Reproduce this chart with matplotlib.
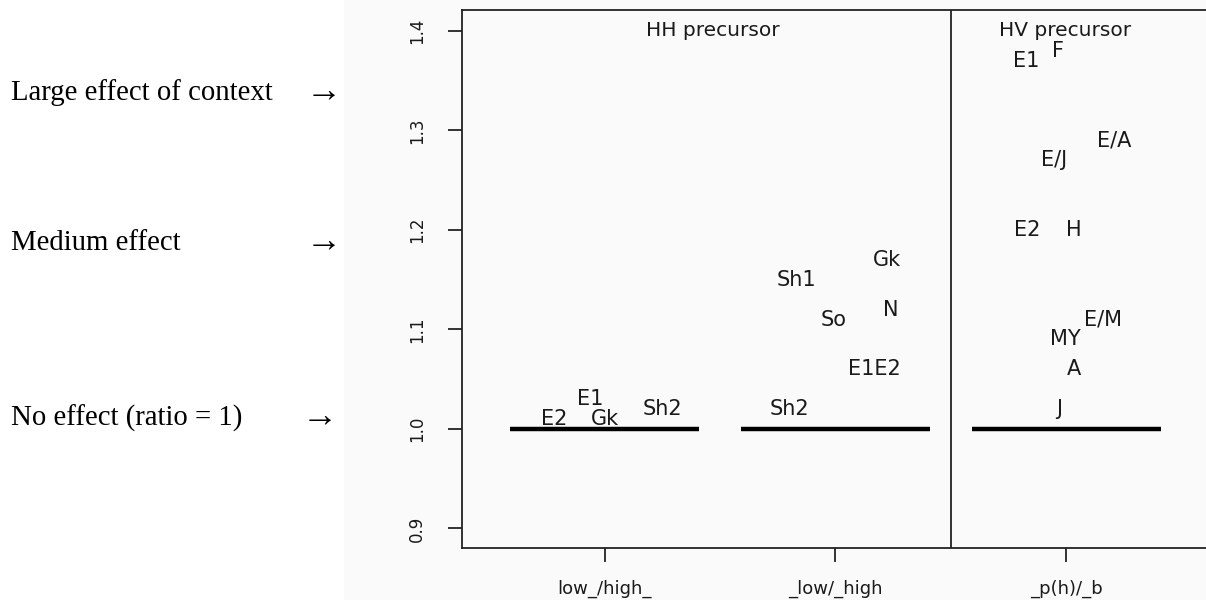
import matplotlib.pyplot as plt
from matplotlib.patches import Rectangle

# contexts on the x axis
contexts = ['low_/high_', '_low/_high', '_p(h)/_b']
baseline = 1.0

# ratio labels per context (label, x in data units, ratio)
g1_labels = ['E2', 'E1', 'Gk', 'Sh2']
g1_x = [0.78, 0.935, 1.0, 1.25]
g1_y = [1.01, 1.03, 1.01, 1.02]

g2_labels = ['Sh2', 'Sh1', 'So', 'N', 'Gk', 'E1E2']
g2_x = [1.80, 1.83, 1.99, 2.24, 2.225, 2.17]
g2_y = [1.02, 1.15, 1.11, 1.12, 1.17, 1.06]

g3_labels = ['E1', 'F', 'E/A', 'E/J', 'E2', 'H', 'E/M', 'MY', 'A', 'J']
g3_x = [2.825, 2.965, 3.21, 2.948, 2.83, 3.035, 3.16, 2.995, 3.035, 2.97]
g3_y = [1.37, 1.38, 1.29, 1.27, 1.20, 1.20, 1.11, 1.09, 1.06, 1.02]

yticks = [0.9, 1.0, 1.1, 1.2, 1.3, 1.4]

# annotations on the left
notes = ['Large effect of context', 'Medium effect', 'No effect (ratio = 1)']

TXT = '#1a1a1a'
BG = '#fafafa'
SERIF = ['Liberation Serif', 'DejaVu Serif']

fig = plt.figure(figsize=(12.06, 6.0), dpi=100)
fig.patches.append(Rectangle((344 / 1206, 0), 1, 1, transform=fig.transFigure,
                             facecolor=BG, edgecolor='none', zorder=-10))

ax = fig.add_axes([462 / 1206, 52 / 600, 1 - 462 / 1206, 538 / 600])
ax.set_facecolor(BG)
ax.set_xlim(0.38, 3.607)
ax.set_ylim(0.8804, 1.4211)

for s in ['left', 'top', 'bottom']:
    ax.spines[s].set_linewidth(1.3)
    ax.spines[s].set_color('#222222')
ax.spines['right'].set_visible(False)

ax.set_xticks(range(1, len(contexts) + 1))
ax.set_xticklabels(contexts, fontsize=13)
ax.set_yticks(yticks)
ax.set_yticklabels([f'{v:.1f}' for v in yticks], rotation=90, va='center', fontsize=12)
ax.tick_params(axis='both', length=10, width=1.3, color='#222222', labelcolor=TXT)
ax.tick_params(axis='x', pad=13)
ax.tick_params(axis='y', pad=16)

# divider between HH and HV precursors
ax.axvline(2.5, color='#222222', lw=1.3)

# no-effect baseline per context
for i in range(len(contexts)):
    ax.hlines(baseline, i + 1 - 0.41, i + 1 + 0.41, color='black', lw=3.2)

for labels, xs, ys in [(g1_labels, g1_x, g1_y), (g2_labels, g2_x, g2_y),
                       (g3_labels, g3_x, g3_y)]:
    for lab, x, y in zip(labels, xs, ys):
        ax.text(x, y, lab, ha='center', va='center', fontsize=15, color=TXT)

ax.text(1.47, 1.40, 'HH precursor', ha='center', va='center', fontsize=14.5, color=TXT)
ax.text(2.995, 1.40, 'HV precursor', ha='center', va='center', fontsize=14.5, color=TXT)

note_y = [93, 243, 418]
arrow_x = [324, 324, 320]
for txt, py, ax_px in zip(notes, note_y, arrow_x):
    fig.text(11 / 1206, 1 - py / 600, txt, ha='left', va='center',
             fontsize=20.7, family=SERIF, color='black')
    fig.text(ax_px / 1206, 1 - py / 600, '\u2192', ha='center', va='center',
             fontsize=26, family=SERIF, color='black')

fig.savefig('out.png', dpi=100)
